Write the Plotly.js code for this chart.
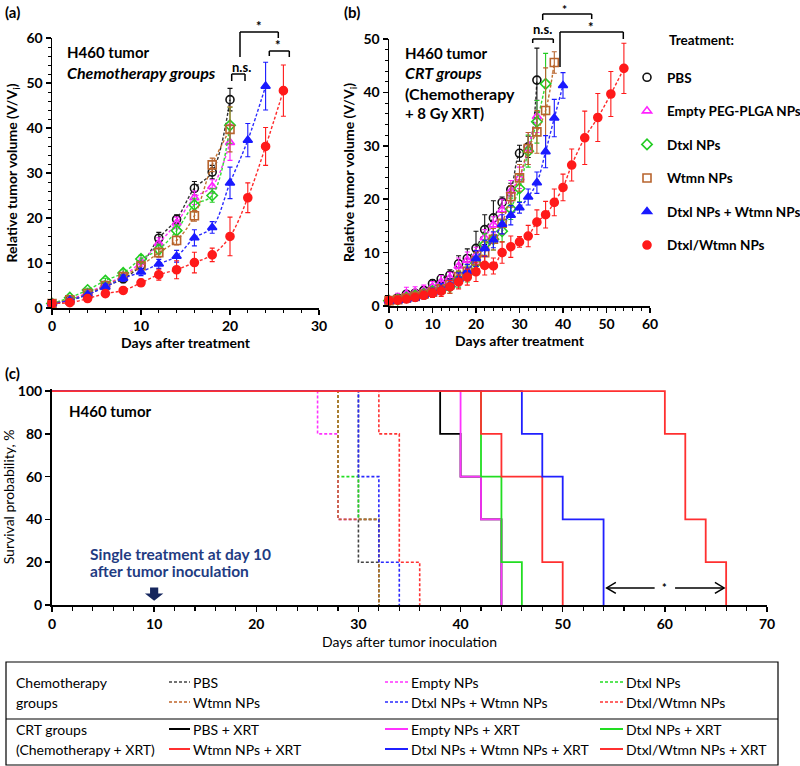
<!DOCTYPE html>
<html>
<head>
<meta charset="utf-8">
<script src="https://cdn.plot.ly/plotly-3.0.1.min.js"></script>
<style>html,body{margin:0;padding:0;background:#fff;}#chart{width:800px;height:766px;}</style>
</head>
<body>
<div id="chart"></div>
<script>
// ---------------- DATA ----------------
// Panel (a): chemotherapy groups, relative tumor volume vs days after treatment
const aDays20 = [0,2,4,6,8,10,12,14,16,18,20];
const aDays24 = [0,2,4,6,8,10,12,14,16,18,20,22,24];
const aDays26 = [0,2,4,6,8,10,12,14,16,18,20,22,24,26];
const aPBS      = [1,1.7,3,4.8,6.5,9.5,15.5,19.7,26.6,30.2,46.3];
const aPBSErr   = [0.2,0.3,0.4,0.5,0.9,1,1.3,1,1.5,1.5,2.5];
const aEmpty    = [1,1.9,3.4,5.2,7.2,10.2,14.4,18.9,24.5,27,36.8];
const aEmptyErr = [0.2,0.3,0.4,0.5,0.7,0.9,1.2,1.3,1.5,1.5,4];
const aDtxl     = [1,2.3,4,6.1,7.8,10.9,13,17.2,22.9,25,40.6];
const aDtxlErr  = [0.2,0.3,0.4,0.5,0.7,0.8,1,1.3,1.5,1.5,4];
const aWtmn     = [1,1.8,3.2,5,7,9.4,12.3,15,20.5,31.8,39.7];
const aWtmnErr  = [0.2,0.3,0.4,0.5,0.7,0.8,1,1,1.2,1.5,5];
const aCombo    = [1,1.7,3,4.7,6.6,8,9.8,11.5,15.6,17.9,27.8,37.3,49.3];
const aComboErr = [0.2,0.3,0.4,0.6,0.7,0.8,1,1.3,1.8,1.3,3.5,3.7,5.3];
const aCoNP     = [1,1.2,2.1,3.2,3.9,5.6,7.4,8.5,10.1,11.8,15.9,24.5,35.9,48.3];
const aCoNPErr  = [0.2,0.3,0.4,0.5,0.7,0.8,1.2,2,2.3,1.5,4.3,3.3,4.2,5.7];

// Panel (b): CRT groups (chemotherapy + 8 Gy XRT)
const bDays34 = [0,2,4,6,8,10,12,14,16,18,20,22,24,26,28,30,32,34];
const bDays36 = [0,2,4,6,8,10,12,14,16,18,20,22,24,26,28,30,32,34,36];
const bDays38 = [0,2,4,6,8,10,12,14,16,18,20,22,24,26,28,30,32,34,36,38];
const bDays40 = [0,2,4,6,8,10,12,14,16,18,20,22,24,26,28,30,32,34,36,38,40];
const bDaysCoNP = [0,2,4,6,8,10,12,14,16,18,20,22,24,26,28,30,32,34,36,38,40,42,45,48,51,54];
const bPBS      = [1,1.5,2.2,2.4,2.9,4.2,5.1,5.8,7.9,8.9,10.8,14.3,16.5,19.4,21.8,28.6,29.8,42.3];
const bPBSErr   = [0.3,0.4,0.5,0.5,0.6,0.7,0.8,1,1.5,1.8,3.2,2.8,3.2,1,1.2,1.5,2,6];
const bEmpty    = [1,1.6,2.3,2.6,2.9,3.6,4.5,5.3,7.5,8.6,9.5,12.8,15.2,18,21.5,24,29.5,35.5];
const bEmptyErr = [0.3,0.8,1.2,1,1,1,1.2,1,1.5,1.5,1.5,1.5,1.5,2,2,2,3,3];
const bDtxl     = [1,1.2,1.6,2,2.3,2.8,3,3.6,5,6,8,11.5,12.5,14,18.2,22,29,34.5,41.6];
const bDtxlErr  = [0.3,0.4,0.5,0.6,0.6,0.7,0.8,1.2,1.5,1.5,2,2,2,2,2,2.5,3,4,5.7];
const bWtmn     = [1,1.2,1.5,1.8,2.2,2.6,3.2,4,5.5,6.5,8.5,10,12.5,15.5,20.5,24,29.5,32.6,36.6,45.6];
const bWtmnErr  = [0.3,0.4,0.5,0.6,0.7,0.8,1,1,1.2,1.3,1.5,2,2,2,2,2.5,3,4,8,2];
const bCombo    = [1,1,1.2,1.5,2,2.5,3.2,4,5,6.5,8.9,10.8,12.4,15.3,17,18.4,20.4,23.1,28.9,35.2,41.3];
const bComboErr = [0.3,0.4,0.5,0.6,0.7,0.8,1,1,1.2,1.3,1.5,1.5,1.5,1.8,1.8,1,1.5,2,3,3.5,2.4];
const bCoNP     = [1,1.1,1.3,1.6,2,2.4,2.8,3.6,4.5,5.4,6.4,7.6,7.5,10,11.1,12,13.1,15.7,17.1,19.4,22.2,26.4,31.5,35.3,39.7,44.5];
const bCoNPErr  = [0.3,0.4,0.5,0.6,0.7,0.8,1,1.2,1.3,1.5,1.8,1.8,1.5,2,2,1,2,2.3,2.5,2.5,2.5,3,5,4.5,4.2,4.7];

// Panel (c): Kaplan-Meier survival (days after tumor inoculation, survival %)
const cPBSDays = [0,30,32],          cPBSSurv = [100,20,0];
const cEmptyDays = [0,26,28,32],     cEmptySurv = [100,80,40,0];
const cDtxlDays = [0,28,30,32],      cDtxlSurv = [100,60,40,0];
const cWtmnDays = [0,28,32],         cWtmnSurv = [100,40,0];
const cComboDays = [0,30,32,34],     cComboSurv = [100,60,20,0];
const cCoNPDays = [0,32,34,36],      cCoNPSurv = [100,80,20,0];
const cPBSXDays = [0,38,40,42,44],   cPBSXSurv = [100,80,60,40,0];
const cEmptyXDays = [0,40,42,44],    cEmptyXSurv = [100,60,40,0];
const cDtxlXDays = [0,42,44,46],     cDtxlXSurv = [100,60,20,0];
const cWtmnXDays = [0,42,44,48,50],  cWtmnXSurv = [100,80,60,20,0];
const cComboXDays = [0,46,48,50,54], cComboXSurv = [100,80,60,40,0];
const cCoNPXDays = [0,60,62,64,66],  cCoNPXSurv = [100,80,40,20,0];

const treatmentNames = ['PBS','Empty PEG-PLGA NPs','Dtxl NPs','Wtmn NPs','Dtxl NPs + Wtmn NPs','Dtxl/Wtmn NPs'];
const chemoNames = ['PBS','Empty NPs','Dtxl NPs','Wtmn NPs','Dtxl NPs + Wtmn NPs','Dtxl/Wtmn NPs'];
const crtNames = ['PBS + XRT','Empty NPs + XRT','Dtxl NPs + XRT','Wtmn NPs + XRT','Dtxl NPs + Wtmn NPs + XRT','Dtxl/Wtmn NPs + XRT'];

// ---------------- STYLE ----------------
const F = 'Lato, "Liberation Sans", Arial, sans-serif';
const W = 800, H = 766;
const px = x => x / W;
const py = y => 1 - y / H;
const colMarker = ['#111111','#ff22ff','#22cc22','#b8642e','#1a1aff','#ff1a1a'];
const colLine   = ['#333333','#ff33ff','#33dd33','#c0702f','#2a2aff','#ff2a2a'];
const symbols   = ['circle-open','triangle-up-open','diamond-open','square-open','triangle-up','circle'];
const cChemoCol = ['#444444','#ff33ff','#22dd22','#c0652a','#2a2aff','#ff3333'];
const cCrtCol   = ['#000000','#ff33ff','#22dd22','#ff3030','#2020ff','#ff3030'];
const DASH = '3px,2px';

const traces = [];

function addSeries(xs, ys, errs, i, xa, ya, legend) {
  traces.push({
    x: xs, y: ys, xaxis: xa, yaxis: ya, mode: 'lines', type: 'scatter',
    line: {color: colLine[i], width: 1.4, dash: DASH, shape: 'spline', smoothing: 1},
    showlegend: false, hoverinfo: 'skip'
  });
  traces.push({
    x: xs, y: ys, xaxis: xa, yaxis: ya, mode: 'markers', type: 'scatter',
    name: treatmentNames[i], legendgroup: 'g' + i, showlegend: legend, cliponaxis: false,
    marker: {symbol: symbols[i], size: 8, color: colMarker[i], line: {color: colMarker[i], width: 1.6}},
    error_y: {type: 'data', array: errs, visible: true, color: colMarker[i], thickness: 1.1, width: 2.5}
  });
}

addSeries(aDays20, aPBS, aPBSErr, 0, 'x', 'y', true);
addSeries(aDays20, aEmpty, aEmptyErr, 1, 'x', 'y', true);
addSeries(aDays20, aDtxl, aDtxlErr, 2, 'x', 'y', true);
addSeries(aDays20, aWtmn, aWtmnErr, 3, 'x', 'y', true);
addSeries(aDays24, aCombo, aComboErr, 4, 'x', 'y', true);
addSeries(aDays26, aCoNP, aCoNPErr, 5, 'x', 'y', true);

addSeries(bDays34, bPBS, bPBSErr, 0, 'x2', 'y2', false);
addSeries(bDays34, bEmpty, bEmptyErr, 1, 'x2', 'y2', false);
addSeries(bDays36, bDtxl, bDtxlErr, 2, 'x2', 'y2', false);
addSeries(bDays38, bWtmn, bWtmnErr, 3, 'x2', 'y2', false);
addSeries(bDays40, bCombo, bComboErr, 4, 'x2', 'y2', false);
addSeries(bDaysCoNP, bCoNP, bCoNPErr, 5, 'x2', 'y2', false);

const chemoKM = [[cPBSDays,cPBSSurv],[cEmptyDays,cEmptySurv],[cDtxlDays,cDtxlSurv],[cWtmnDays,cWtmnSurv],[cComboDays,cComboSurv],[cCoNPDays,cCoNPSurv]];
const crtKM = [[cPBSXDays,cPBSXSurv],[cEmptyXDays,cEmptyXSurv],[cDtxlXDays,cDtxlXSurv],[cWtmnXDays,cWtmnXSurv],[cComboXDays,cComboXSurv],[cCoNPXDays,cCoNPXSurv]];
[0,1,2,3,4,5].forEach(i => {
  traces.push({x: chemoKM[i][0], y: chemoKM[i][1], xaxis: 'x3', yaxis: 'y3', mode: 'lines', type: 'scatter',
    name: chemoNames[i], showlegend: false, line: {shape: 'hv', color: cChemoCol[i], width: 1.6, dash: DASH}});
});
[0,1,2,3,4,5].forEach(i => {
  traces.push({x: crtKM[i][0], y: crtKM[i][1], xaxis: 'x3', yaxis: 'y3', mode: 'lines', type: 'scatter',
    name: crtNames[i], showlegend: false, line: {shape: 'hv', color: cCrtCol[i], width: 1.8}});
});

// ---------------- AXES ----------------
const tickFont = {family: F, size: 14, weight: 'bold', color: '#000'};
function axis(extra) {
  return Object.assign({
    showline: true, linecolor: '#000', linewidth: 1.5, zeroline: false, showgrid: false,
    ticks: 'outside', ticklen: 5, tickwidth: 1.5, tickcolor: '#000', tickfont: tickFont,
    tickmode: 'linear', tick0: 0, fixedrange: true, automargin: false
  }, extra);
}
// overlay axes that add the inner half of the crossing major ticks
function innerTicks(over, anchor, range, dtick, side, tw) {
  return {overlaying: over, anchor: anchor, range: range, side: side, tickmode: 'linear', tick0: 0, dtick: dtick,
    ticks: 'inside', ticklen: 4, tickwidth: tw, tickcolor: '#000', showticklabels: false, showline: false,
    zeroline: false, showgrid: false, fixedrange: true, automargin: false};
}
const titleFontB = {family: F, size: 14, weight: 'bold', color: '#000'};
const titleFontN = {family: F, size: 14, color: '#000'};

const layout = {
  width: W, height: H, margin: {l: 0, r: 0, t: 0, b: 0, autoexpand: false},
  paper_bgcolor: '#fff', plot_bgcolor: 'rgba(0,0,0,0)',
  font: {family: F, color: '#000'},
  showlegend: true,
  legend: {x: px(627), y: py(62), xanchor: 'left', yanchor: 'top', bgcolor: 'rgba(0,0,0,0)',
           font: {family: F, size: 13.5, weight: 'bold', color: '#000'}, tracegroupgap: 13, traceorder: 'grouped', itemwidth: 30},
  xaxis: axis({domain: [px(52), px(319)], range: [0, 30], dtick: 10, anchor: 'y',
    minor: {dtick: 2, ticks: 'outside', ticklen: 3, tickwidth: 1, tickcolor: '#000'},
    title: {text: 'Days after treatment', font: titleFontB, standoff: 5}}),
  yaxis: axis({domain: [py(308), py(38)], range: [0, 60], dtick: 10, anchor: 'x',
    minor: {dtick: 2, ticks: 'outside', ticklen: 3, tickwidth: 1, tickcolor: '#000'},
    title: {text: 'Relative tumor volume (V/V<sub>i</sub>)', font: titleFontB, standoff: 5}}),
  xaxis2: axis({domain: [px(389), px(650)], range: [0, 60], dtick: 10, anchor: 'y2',
    minor: {dtick: 2, ticks: 'outside', ticklen: 3, tickwidth: 1, tickcolor: '#000'},
    title: {text: 'Days after treatment', font: titleFontB, standoff: 5}}),
  yaxis2: axis({domain: [py(306), py(39)], range: [0, 50], dtick: 10, anchor: 'x2',
    minor: {dtick: 2, ticks: 'outside', ticklen: 3, tickwidth: 1, tickcolor: '#000'},
    title: {text: 'Relative tumor volume (V/V<sub>i</sub>)', font: titleFontB, standoff: 5}}),
  xaxis3: axis({domain: [px(52), px(767)], range: [0, 70], dtick: 10, anchor: 'y3', linewidth: 2,
    minor: {dtick: 2, ticks: 'outside', ticklen: 4, tickwidth: 1.2, tickcolor: '#000'},
    title: {text: 'Days after tumor inoculation', font: titleFontN, standoff: 6}}),
  yaxis3: axis({domain: [py(605), py(388.9)], range: [0, 101], dtick: 20, anchor: 'x3', linewidth: 2,
    title: {text: 'Survival probability, %', font: titleFontN, standoff: 6}}),
  xaxis4: innerTicks('x', 'y', [0, 30], 10, 'bottom', 1.5),
  yaxis4: innerTicks('y', 'x', [0, 60], 10, 'left', 1.5),
  xaxis5: innerTicks('x2', 'y2', [0, 60], 10, 'bottom', 1.5),
  yaxis5: innerTicks('y2', 'x2', [0, 50], 10, 'left', 1.5),
  xaxis6: innerTicks('x3', 'y3', [0, 70], 10, 'bottom', 1.5),
  yaxis6: innerTicks('y3', 'x3', [0, 101], 20, 'left', 1.5),
  shapes: [],
  annotations: []
};

const ann = layout.annotations, shp = layout.shapes;
function txt(x, y, text, size, opts) {
  ann.push(Object.assign({xref: 'paper', yref: 'paper', x: px(x), y: py(y), text: text, showarrow: false,
    xanchor: 'left', yanchor: 'middle', font: {family: F, size: size, color: '#000'}}, opts || {}));
}
function seg(x0, y0, x1, y1, opts) {
  shp.push(Object.assign({type: 'line', xref: 'paper', yref: 'paper', x0: px(x0), y0: py(y0), x1: px(x1), y1: py(y1),
    line: {color: '#000', width: 1.5}}, opts || {}));
}
function bracket(x0, x1, yTop, yL, yR) {
  seg(x0, yL, x0, yTop); seg(x0, yTop, x1, yTop); seg(x1, yTop, x1, yR);
}

// panel labels
txt(3, 12, '<b>(a)</b>', 15);
txt(342, 12, '<b>(b)</b>', 15);
txt(3, 373, '<b>(c)</b>', 15);

// panel (a) text
txt(65, 52, '<b>H460 tumor</b>', 15);
txt(65, 73, '<b><i>Chemotherapy groups</i></b>', 16);
// panel (b) text
txt(403, 53, '<b>H460 tumor</b>', 15);
txt(403, 73, '<b><i>CRT groups</i></b>', 16);
txt(403, 93, '<b>(Chemotherapy</b>', 16);
txt(403, 113, '<b>+ 8 Gy XRT)</b>', 15);
txt(667, 40, '<b>Treatment:</b>', 13.5);

// significance brackets (a)
bracket(231.7, 245, 74, 81, 81);
txt(241.7, 67, '<b>n.s.</b>', 13, {xanchor: 'center'});
bracket(240, 278.3, 32, 57, 38);
txt(259, 26, '<b>*</b>', 13, {xanchor: 'center'});
bracket(269.3, 289.3, 51, 56, 57);
txt(278, 45, '<b>*</b>', 13, {xanchor: 'center'});
// significance brackets (b)
bracket(532.7, 553.3, 39, 43, 43);
txt(542.5, 29, '<b>n.s.</b>', 13, {xanchor: 'center'});
bracket(542.7, 591.7, 14, 20, 19);
txt(564, 9, '<b>*</b>', 12, {xanchor: 'center'});
bracket(560, 623.3, 32, 67, 39);
txt(591, 27, '<b>*</b>', 13, {xanchor: 'center'});

// panel (c) texts
txt(67, 411, '<b>H460 tumor</b>', 15);
txt(88, 554, '<b>Single treatment at day 10</b>', 15.5, {font: {family: F, size: 15.5, color: '#1f3c82'}});
txt(88, 571, '<b>after tumor inoculation</b>', 15.5, {font: {family: F, size: 15.5, color: '#1f3c82'}});
// down arrow at day 10
shp.push({type: 'path', xref: 'x3', yref: 'y3', fillcolor: '#16275e', line: {width: 0},
  path: 'M 9.6,8.2 L 10.4,8.2 L 10.4,5.4 L 10.9,5.4 L 10,2.0 L 9.1,5.4 L 9.6,5.4 Z'});
// double-headed arrow with star (shapes in survival-axis coordinates)
shp.push({type: 'line', xref: 'x3', yref: 'y3', x0: 54.3, x1: 59, y0: 8, y1: 8, line: {color: '#000', width: 1.5}});
shp.push({type: 'line', xref: 'x3', yref: 'y3', x0: 61, x1: 65.8, y0: 8, y1: 8, line: {color: '#000', width: 1.5}});
shp.push({type: 'path', xref: 'x3', yref: 'y3', line: {color: '#000', width: 1.5}, path: 'M 55.2,10.6 L 54.3,8 L 55.2,5.4'});
shp.push({type: 'path', xref: 'x3', yref: 'y3', line: {color: '#000', width: 1.5}, path: 'M 64.9,10.6 L 65.8,8 L 64.9,5.4'});
ann.push({xref: 'x3', yref: 'y3', x: 60, y: 8, text: '<b>*</b>', showarrow: false, font: {family: F, size: 11, color: '#000'}});

// bottom legend table
shp.push({type: 'rect', xref: 'paper', yref: 'paper', x0: px(6), x1: px(778), y0: py(765), y1: py(662),
  line: {color: '#000', width: 1.2}, fillcolor: 'rgba(0,0,0,0)'});
seg(6, 719, 778, 719, {line: {color: '#000', width: 1.2}});
txt(14, 682, 'Chemotherapy', 14);
txt(14, 702, 'groups', 14);
txt(14, 729, 'CRT groups', 14);
txt(14, 749, '(Chemotherapy + XRT)', 14);
const legLineX0 = [169, 385, 600], legLineX1 = [190, 408, 623], legTextX = [191, 409, 624];
const legRowY = [682, 702, 729, 749];
chemoNames.forEach((n, i) => {
  const c = i % 3, r = Math.floor(i / 3);
  seg(legLineX0[c], legRowY[r], legLineX1[c], legRowY[r], {line: {color: cChemoCol[i], width: 1.6, dash: DASH}});
  txt(legTextX[c], legRowY[r], n, 14);
});
crtNames.forEach((n, i) => {
  const c = i % 3, r = 2 + Math.floor(i / 3);
  seg(legLineX0[c], legRowY[r], legLineX1[c], legRowY[r], {line: {color: cCrtCol[i], width: 2}});
  txt(legTextX[c], legRowY[r], n, 14);
});

Plotly.newPlot('chart', traces, layout, {staticPlot: true, displayModeBar: false});
</script>
</body>
</html>
